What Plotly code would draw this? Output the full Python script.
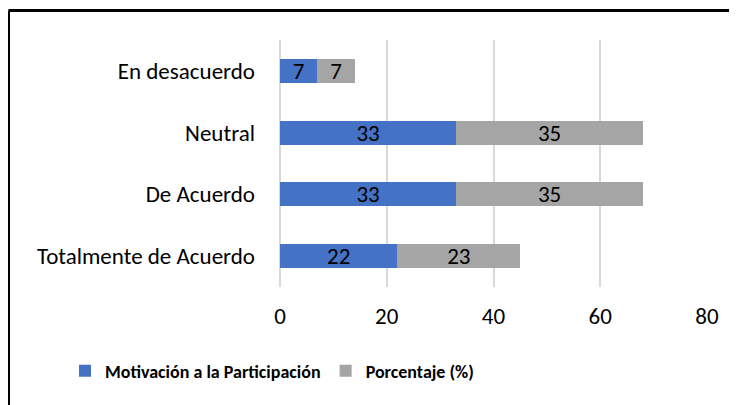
import plotly.graph_objects as go

# Survey answers, bottom to top as drawn on the chart
categories = ["Totalmente de Acuerdo", "De Acuerdo", "Neutral", "En desacuerdo"]
motivacion = [22, 33, 33, 7]
porcentaje = [23, 35, 35, 7]
x_ticks = [0, 20, 40, 60, 80]

FONT = "Carlito, Calibri, 'Liberation Sans Narrow', 'Open Sans', sans-serif"
BLUE = "#4472C4"
GREY = "#A5A5A5"

# page body has an 8px margin, so the figure is 8px smaller than the window
W, H = 729, 397
L, T, PW, PH = 272, 32, 427, 247


def px_x(x):
    return (x - L) / PW


def px_y(y):
    return 1 - (y - T) / PH


fig = go.Figure()
for name, vals, col in [("Motivación a la Participación", motivacion, BLUE),
                        ("Porcentaje (%)", porcentaje, GREY)]:
    fig.add_trace(go.Bar(
        y=categories, x=vals, orientation="h", name=name,
        marker=dict(color=col, line=dict(width=0)),
        text=vals, textposition="inside", insidetextanchor="middle",
        textangle=0, constraintext="none",
        textfont=dict(color="black", size=23, family=FONT),
        width=0.39,
    ))

fig.update_layout(
    barmode="stack",
    width=W, height=H,
    margin=dict(l=L, r=W - L - PW, t=T, b=H - T - PH),
    plot_bgcolor="white", paper_bgcolor="white",
    font=dict(family=FONT, size=23, color="black"),
    uniformtext=dict(mode="show", minsize=22),
    showlegend=True,
    legend=dict(
        orientation="h", x=px_x(57), xanchor="left", y=px_y(363), yanchor="middle",
        font=dict(size=18, family=FONT, weight="bold"),
        traceorder="normal", itemwidth=30,
    ),
    shapes=[
        # chart border: only top and left edges are inside the crop
        dict(type="line", xref="paper", yref="paper",
             x0=px_x(0.5), x1=px_x(W + 5), y0=px_y(2.5), y1=px_y(2.5),
             line=dict(color="black", width=3)),
        dict(type="line", xref="paper", yref="paper",
             x0=px_x(0.5), x1=px_x(0.5), y0=px_y(2.5), y1=px_y(H + 5),
             line=dict(color="black", width=3)),
    ],
)
fig.update_xaxes(
    range=[0, 80], tickvals=x_ticks, showgrid=True, gridcolor="#D9D9D9",
    gridwidth=1.5, zeroline=True, zerolinecolor="#D9D9D9", zerolinewidth=1.5,
    showline=False, ticks="", ticklabelstandoff=13, automargin=False,
    tickfont=dict(size=23, family=FONT),
)
fig.update_yaxes(
    categoryorder="array", categoryarray=categories, range=[-0.5, 3.5],
    showgrid=False, showline=False, ticks="", ticklabelstandoff=24,
    automargin=False, tickfont=dict(size=23, family=FONT),
)

fig.write_html("out.html")
